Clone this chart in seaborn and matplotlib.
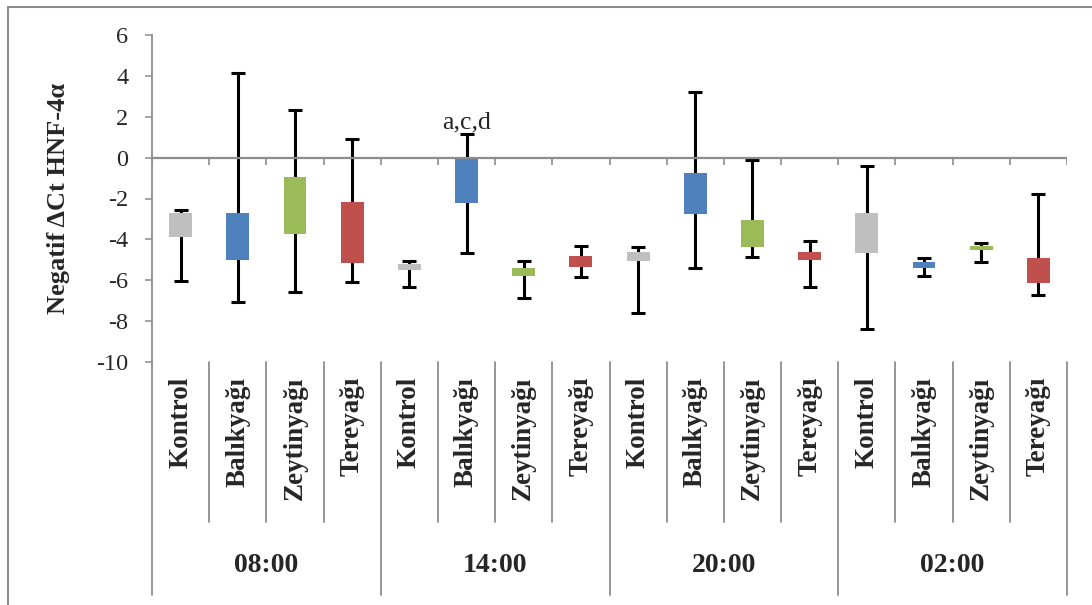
import numpy as np
import pandas as pd
import matplotlib
matplotlib.use("Agg")
import matplotlib.pyplot as plt
import matplotlib.transforms as mtransforms
from matplotlib.lines import Line2D
import seaborn as sns

# ---- data ----
times = ["08:00", "14:00", "20:00", "02:00"]
groups = ["Kontrol", "Balıkyağı", "Zeytinyağı", "Tereyağı"]
colors = ["#BFBFBF", "#4F81BD", "#9BBB59", "#C0504D"]

whisker_max = [-2.54, 4.12, 2.35, 0.93,
               -5.07, 1.14, -5.04, -4.32,
               -4.37, 3.23, -0.12, -4.09,
               -0.43, -4.92, -4.20, -1.80]
box_top = [-2.72, -2.70, -0.97, -2.16,
           -5.20, -0.02, -5.38, -4.81,
           -4.60, -0.77, -3.03, -4.60,
           -2.73, -5.13, -4.30, -4.89]
box_bottom = [-3.89, -5.00, -3.75, -5.17,
              -5.49, -2.23, -5.81, -5.36,
              -5.07, -2.76, -4.38, -4.99,
              -4.68, -5.38, -4.50, -6.15]
whisker_min = [-6.02, -7.06, -6.56, -6.07,
               -6.33, -4.68, -6.87, -5.84,
               -7.60, -5.41, -4.87, -6.35,
               -8.39, -5.77, -5.10, -6.74]
annotation_text = "a,c,d"
annotation_index = 5

yticks = list(range(-10, 7, 2))

# ---- style ----
sns.set_style("white")
plt.rcParams["font.family"] = ["Liberation Serif", "DejaVu Serif"]
plt.rcParams["axes.unicode_minus"] = False

gray = "#8C8C8C"

cats = [f"{t}|{g}" for t in times for g in groups]
df = pd.DataFrame({
    "cat": cats,
    "height": np.array(box_top) - np.array(box_bottom),
    "bottom": box_bottom,
})

fig = plt.figure(figsize=(10.92, 6.05), dpi=100)
ax = fig.add_axes([152 / 1092, 1 - 362 / 605, (1067 - 152) / 1092, (362 - 35) / 605])

sns.barplot(data=df, x="cat", y="height", order=cats, bottom=df["bottom"].values,
            color=colors[0], width=0.4, errorbar=None, ax=ax, zorder=3,
            linewidth=0)
for i, p in enumerate(ax.patches):
    p.set_facecolor(colors[i % 4])
    p.set_edgecolor("none")

pos = np.arange(len(cats))
mid = (np.array(box_top) + np.array(box_bottom)) / 2
ax.errorbar(pos, mid,
            yerr=[mid - np.array(whisker_min), np.array(whisker_max) - mid],
            fmt="none", ecolor="black", elinewidth=2.2, capsize=5.2,
            capthick=2.2, zorder=2)

ax.set_xlim(-0.5, len(cats) - 0.5)
ax.set_ylim(-10, 6)
ax.set_yticks(yticks)
ax.set_yticklabels([str(v) for v in yticks])
ax.tick_params(axis="y", direction="out", length=5, width=1.1, color=gray,
               pad=12, labelsize=17.5, left=True)
ax.set_xticks([])
ax.set_xlabel("")
ax.set_ylabel("")
for s in ["top", "right", "bottom"]:
    ax.spines[s].set_visible(False)
ax.spines["left"].set_color(gray)
ax.spines["left"].set_linewidth(1.3)

# zero line with downward ticks at category boundaries
ax.axhline(0, color=gray, lw=1.6, zorder=4)
bounds = np.arange(len(cats) + 1) - 0.5
ax.vlines(bounds, 0, -0.35, color=gray, lw=1.2, zorder=4)

# annotation
ax.text(pos[annotation_index], whisker_max[annotation_index] + 0.06, annotation_text,
        ha="center", va="bottom", fontsize=18.5, zorder=5)

# category axis (two levels)
trans = mtransforms.blended_transform_factory(ax.transData, ax.transAxes)
sub_depth = -160 / 327
grp_depth = -233 / 327
for i, b in enumerate(bounds):
    if i % 4 == 0:
        ax.add_line(Line2D([b, b], [0, grp_depth], transform=trans, color=gray,
                           lw=1.3, clip_on=False))
    else:
        ax.add_line(Line2D([b, b], [0, sub_depth], transform=trans, color=gray,
                           lw=1.3, clip_on=False))
for i, c in enumerate(cats):
    ax.text(pos[i], -15 / 327, groups[i % 4], transform=trans, rotation=90,
            ha="center", va="top", fontsize=19.5, fontweight="bold")
for j, t in enumerate(times):
    ax.text(pos[j * 4] + 1.5, -204 / 327, t, transform=trans, ha="center",
            va="center", fontsize=20, fontweight="bold")

# y label
fig.text(58 / 1092, 1 - 198.5 / 605, "Negatif ΔCt HNF-4α", rotation=90,
         ha="center", va="center", fontsize=19, fontweight="bold")

# outer chart frame (partially visible)
fig.add_artist(Line2D([8 / 1092, 8 / 1092], [1 - 7 / 605, 0], transform=fig.transFigure,
                      color=gray, lw=1.5))
fig.add_artist(Line2D([8 / 1092, 1], [1 - 7 / 605, 1 - 7 / 605], transform=fig.transFigure,
                      color=gray, lw=1.5))

fig.savefig("out.png", dpi=100)
